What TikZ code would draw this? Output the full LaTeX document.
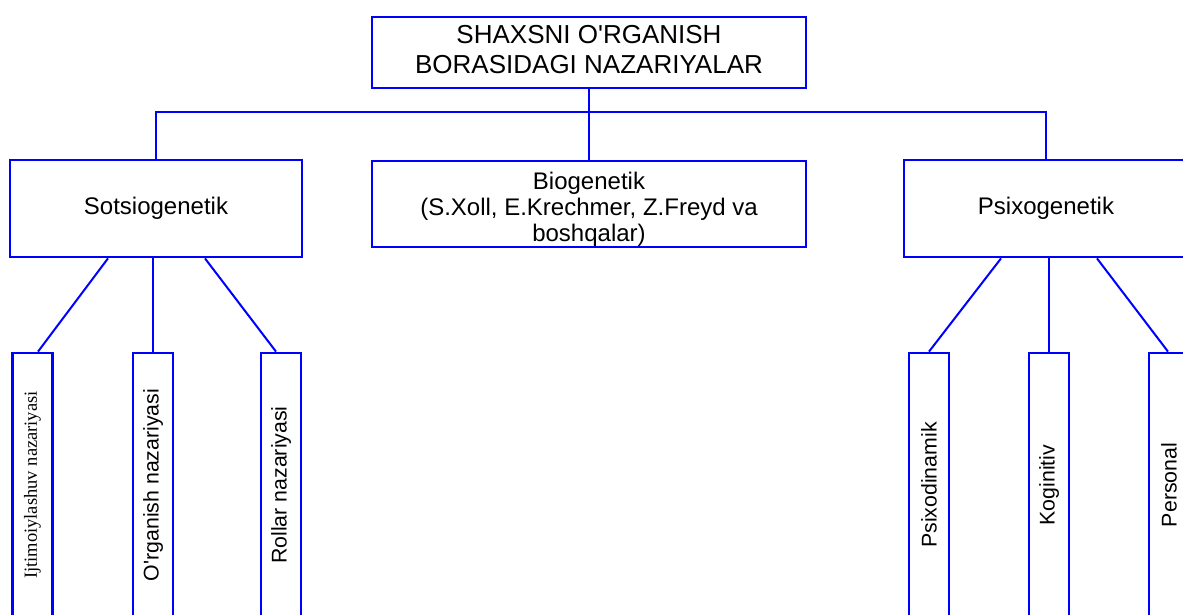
\documentclass[tikz,border=0pt]{standalone}
\usepackage{fontspec}
\setmainfont{Liberation Sans}
\newfontfamily\timesfont{Liberation Serif}

\begin{document}
\begin{tikzpicture}[x=1pt, y=-1pt,
    box/.style={draw=blue, line width=2.8pt, rectangle, inner sep=0pt, align=center},
    wide/.style={box, minimum width=434pt},
    side/.style={box, minimum height=97pt, font=\fontsize{24}{27}\selectfont},
    leaf/.style={box, minimum width=40pt, minimum height=264pt, font=\fontsize{21.3}{24}\selectfont},
    link/.style={draw=blue, line width=2pt}]

    \clip (0,0) rectangle (1183,614);

    \node [wide, minimum height=71pt, font=\fontsize{26}{30}\selectfont] (top) at (589, 52.5)
        {SHAXSNI O\textquotesingle{}RGANISH\\BORASIDAGI NAZARIYALAR\rule[-6pt]{0pt}{6pt}};
    \node [wide, minimum height=86pt, font=\fontsize{24}{26}\selectfont] (bio) at (589, 204)
        {\rule{0pt}{28.5pt}Biogenetik\\(S.Xoll, E.Krechmer, Z.Freyd va\\boshqalar)};
    \node [side, minimum width=292pt] (sots) at (156, 208.5) {Sotsiogenetik};
    \node [side, minimum width=284pt] (psix) at (1046, 208.5) {Psixogenetik};

    \node [leaf] (ijt) at (32.5, 485) {\rotatebox{90}{\timesfont\fontsize{18.5}{20}\selectfont Ijtimoiylashuv nazariyasi}};
    \node [leaf] (org) at (153, 485) {\rotatebox{90}{O\textquotesingle{}rganish nazariyasi}};
    \node [leaf] (rol) at (281, 485) {\rotatebox{90}{Rollar nazariyasi}};

    \node [leaf] (pdin) at (929, 485) {\rotatebox{90}{Psixodinamik}};
    \node [leaf] (kog) at (1049, 485) {\rotatebox{90}{Koginitiv}};
    \node [leaf] (pers) at (1169, 485) {\rotatebox{90}{Personal}};

    \coordinate (bus) at (589, 112);
    \draw [link] (top.south) -- (bio.north);
    \draw [link] (sots.north) |- (bus) -| (psix.north);

    \draw [link] ([xshift=-48]sots.south) -- ([xshift=5.5]ijt.north);
    \draw [link] (sots.south -| org.north) -- (org.north);
    \draw [link] ([xshift=49]sots.south) -- ([xshift=-5]rol.north);

    \draw [link] ([xshift=-45]psix.south) -- (pdin.north);
    \draw [link] (psix.south -| kog.north) -- (kog.north);
    \draw [link] ([xshift=51]psix.south) -- ([xshift=-1]pers.north);

\end{tikzpicture}
\end{document}
